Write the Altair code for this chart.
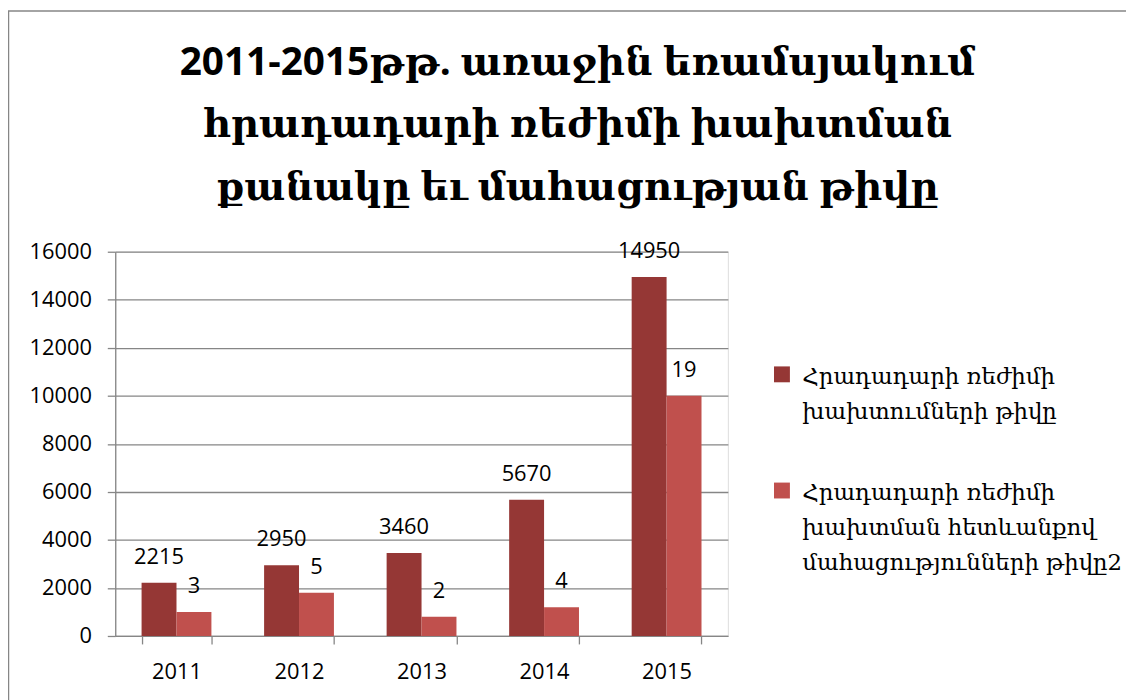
import altair as alt
import pandas as pd

years = ["2011", "2012", "2013", "2014", "2015"]
series_names = [
    "Հրադադարի ռեժիմի\nխախտումների թիվը",
    "Հրադադարի ռեժիմի\nխախտման հետևանքով\nմահացությունների թիվը2",
]
violations = [2215, 2950, 3460, 5670, 14950]
violation_labels = ["2215", "2950", "3460", "5670", "14950"]
death_bar_heights = [1000, 1800, 800, 1200, 10000]
death_labels = ["3", "5", "2", "4", "19"]
colors = ["#953735", "#C0504D"]
title_lines = [
    "2011-2015թթ. առաջին եռամսյակում",
    "հրադադարի ռեժիմի խախտման",
    "քանակը եւ մահացության թիվը",
]

rows = []
for i, y in enumerate(years):
    rows.append({"year": y, "series": series_names[0], "value": violations[i], "label": violation_labels[i]})
    rows.append({"year": y, "series": series_names[1], "value": death_bar_heights[i], "label": death_labels[i]})
df = pd.DataFrame(rows)

NUM_FONT = "Open Sans"
ARM_FONT = "DejaVu Serif"
GUIDE_DY = -8

x_enc = alt.X(
    "year:N",
    title=None,
    scale=alt.Scale(paddingInner=0.43, paddingOuter=0.215),
    axis=alt.Axis(
        tickBand="extent", labelAngle=0, labelFontSize=22, labelFont=NUM_FONT,
        labelColor="#000000", tickSize=8, tickColor="#868686", domainColor="#868686",
        domainWidth=1.3, tickWidth=1.3, labelPadding=18 - GUIDE_DY, grid=False,
    ),
)
xoff = alt.XOffset("series:N", sort=series_names)
y_enc = alt.Y(
    "value:Q",
    title=None,
    scale=alt.Scale(domain=[0, 16000]),
    axis=alt.Axis(
        values=list(range(0, 16001, 2000)), labelFontSize=22, labelFont=NUM_FONT,
        labelColor="#000000", tickSize=8, tickColor="#868686", domainColor="#868686",
        domainWidth=1.3, tickWidth=1.3, gridColor="#868686", gridWidth=1.3,
        labelPadding=16, format="d", labelOffset=-GUIDE_DY,
    ),
)

bars = alt.Chart(df).mark_bar().encode(
    x=x_enc,
    xOffset=xoff,
    y=y_enc,
    color=alt.Color(
        "series:N",
        sort=series_names,
        scale=alt.Scale(domain=series_names, range=colors),
        legend=alt.Legend(
            title=None, orient="none", legendX=660, legendY=112,
            symbolType="square", symbolSize=256, symbolStrokeWidth=0,
            labelFont=ARM_FONT, labelFontSize=23, labelColor="#000000",
            labelLimit=500, rowPadding=55, labelOffset=9,
            labelExpr="split(datum.label, '\\n')",
            labelBaseline="top",
        ),
    ),
)

texts = alt.Chart(df).mark_text(
    baseline="middle", dy=-26, fontSize=22, font=NUM_FONT, color="#000000"
).encode(
    x=alt.X("year:N"),
    xOffset=xoff,
    y=alt.Y("value:Q"),
    text="label:N",
)

frame = alt.Chart(alt.Data(values=[{"a": 1}])).mark_rect(
    fill=None, stroke="#868686", strokeWidth=1.5
).encode(
    x=alt.value(-107.5), x2=alt.value(1300), y=alt.value(-242.5), y2=alt.value(1000)
)

chart = alt.layer(frame, bars, texts).properties(
    width=617,
    height=387,
    autosize=alt.AutoSizeParams(type="none"),
    padding={"left": 108, "top": 243, "right": 401, "bottom": 62},
    title=alt.Title(
        title_lines, anchor="middle", fontSize=39, font=f"{NUM_FONT}, {ARM_FONT}",
        fontWeight="bold", lineHeight=63, dx=157, offset=0, dy=199, color="#000000",
    ),
).configure_view(stroke=None).configure(
    background="#ffffff",
    style={"guide-label": {"lineHeight": 35, "dy": GUIDE_DY}},
)

chart.save("out.html", embed_options={"renderer": "svg", "actions": False})
